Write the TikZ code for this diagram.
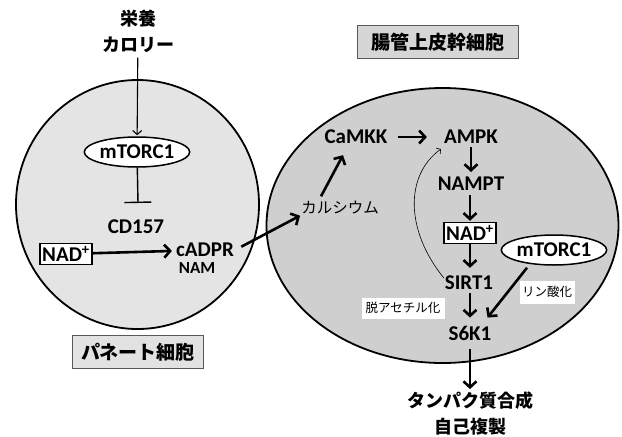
\documentclass[tikz,border=0pt]{standalone}
\usepackage{fontspec}
\setmainfont{Carlito}
\newfontfamily\jp{Noto Sans CJK JP}
\usetikzlibrary{arrows.meta,shapes.geometric,calc}
\definecolor{cellL}{HTML}{E4E4E4}
\definecolor{cellR}{HTML}{CFCFCF}
\definecolor{boxL}{HTML}{E2E2E2}
\definecolor{boxR}{HTML}{D6D6D6}
\begin{document}
\begin{tikzpicture}[x=1pt,y=-1pt,
  lab/.style={font=\fontsize{21}{22}\selectfont\bfseries, inner sep=1pt},
  smalllab/.style={font=\fontsize{17}{18}\selectfont\bfseries, inner sep=1pt},
  jlab/.style={font=\jp\fontsize{18}{26}\selectfont\bfseries, inner sep=1pt, align=center},
  jreg/.style={font=\jp\fontsize{15.5}{18}\selectfont, inner sep=1pt},
  ell/.style={draw, fill=white, ellipse, line width=1.5pt, minimum width=100pt, minimum height=30pt, inner sep=0pt, font=\fontsize{21}{22}\selectfont\bfseries},
  nadbox/.style={draw, fill=white, line width=1.4pt, inner xsep=2pt, inner ysep=0pt, minimum height=21pt, font=\fontsize{21}{22}\selectfont\bfseries},
  jbox/.style={draw=black!65, line width=1pt, inner sep=0pt, minimum height=33pt, font=\jp\fontsize{19}{22}\selectfont\bfseries},
  wbox/.style={fill=white, inner sep=0pt, minimum height=21pt, font=\jp\fontsize{12.5}{14}\selectfont},
  arr/.style={line width=2.6pt, -{Straight Barb[length=6pt,width=13pt]}},
  tarr/.style={line width=1.1pt, -{Straight Barb[length=4pt,width=9pt]}},
  inh/.style={line width=1.4pt, -{Bar[width=27pt,line width=1.4pt]}},
  cell/.style={draw, ellipse, line width=1.8pt, inner sep=0pt}
]
\useasboundingbox (0,0) rectangle (622,437);
\fill[white] (0,0) rectangle (622,437);

% cells
\node[cell, fill=cellL, minimum width=243pt, minimum height=249pt] (paneth cell) at (137.5,204.5) {};
\node[cell, fill=cellR, minimum width=352pt, minimum height=275pt] (stem cell) at (442.5,225.5) {};

% left side
\node[jlab] (food) at (138,31) {栄養\\カロリー};
\node[ell] (mt1) at (137,152) {mTORC1};
\coordinate (bar) at (138,203);
\node[lab] (cd) at (136,227) {CD157};
\node[nadbox] (nadL) at (66,254) {NAD\textsuperscript{+}};
\node[lab] (cadpr) at (205,250) {cADPR};
\node[smalllab] (nam) at (197,268) {NAM};
\node[jbox, fill=boxL, minimum width=131pt] (paneth) at (138,352) {パネート細胞};

\draw[tarr, shorten <=4pt, shorten >=1pt] (food) -- (mt1);
\draw[inh] (mt1) -- (bar);
\draw[arr, shorten >=3pt] (nadL) -- (cadpr);

% right side
\node[jbox, fill=boxR, minimum width=161pt] (stem) at (438,42) {腸管上皮幹細胞};
\node[jreg] (ca) at (340,208) {カルシウム};
\node[lab] (camkk) at (356,137) {CaMKK};
\node[lab] (ampk) at (471,137) {AMPK};
\node[lab] (nampt) at (471,184) {NAMPT};
\node[nadbox] (nadR) at (470,233) {NAD\textsuperscript{+}};
\node[lab] (sirt) at (469,283) {SIRT1};
\node[lab] (s6k) at (470,333) {S6K1};
\node[ell] (mt2) at (554,250) {mTORC1};
\node[wbox, minimum width=83pt] (deac) at (403,308) {脱アセチル化};
\node[wbox, minimum width=55pt, minimum height=23pt] (phos) at (547,292) {リン酸化};
\node[jlab] (prot) at (470,414) {タンパク質合成\\自己複製};

\draw[arr, shorten <=7pt] (cadpr.east) -- (ca.south west);
\draw[arr] ($(ca.north)+(-19,-4)$) -- ($(camkk.south)+(-13,10)$);
\draw[arr, shorten <=9pt, shorten >=16pt] (camkk) -- (ampk);
\draw[arr, shorten <=2pt, shorten >=4pt] (ampk.south -| nampt) -- (nampt.north);
\draw[arr, shorten <=3pt, shorten >=1pt] (nampt.south -| nadR) -- (nadR.north);
\draw[arr, shorten >=7pt] (nadR.south) -- (nadR.south |- sirt.north);
\draw[arr, shorten <=2pt, shorten >=7pt] (sirt.south -| s6k) -- (s6k.north);
\draw[arr, shorten <=8pt, shorten >=2pt] (s6k.south) -- (s6k.south |- prot.north);
\draw[line width=0.6pt, -{Straight Barb[length=3pt,width=7pt]}] ($(sirt.north west)+(0,3)$) .. controls (405,230) and (405,175) .. ($(ampk.south west)+(-2,4)$);
\draw[arr] ($(mt2.south)+(-27,2)$) -- ($(s6k.north east)+(-5,-7)$);
\end{tikzpicture}
\end{document}
